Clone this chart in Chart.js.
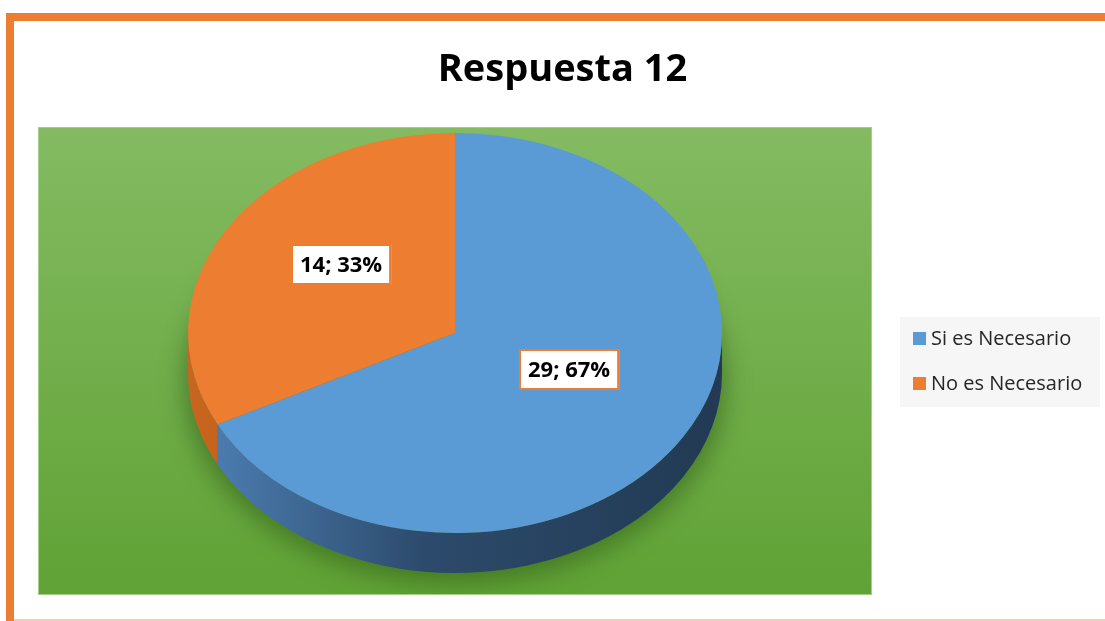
<!DOCTYPE html>
<html>
<head>
<meta charset="utf-8">
<script src="https://cdn.jsdelivr.net/npm/chart.js@4/dist/chart.umd.min.js"></script>
<style>
  html, body { margin: 0; padding: 0; background: #fff; overflow: hidden; }
  canvas { display: block; }
</style>
</head>
<body>
<canvas id="graficoRespuesta" width="1105" height="621"></canvas>
<script>
const titulo = "Respuesta 12"
const categorias = ["Si es Necesario", "No es Necesario"]
const valores = [29, 14]
const colores = ["#5b9bd5", "#ed7d31"]
// side (rim) colours: left, middle, right
const coloresLado = [
  ["#4f82b8", "#2c4a6b", "#223a53"],
  ["#c8651f", "#b55a1b", "#a34f18"]
]

// where the tilted pie sits on the page
const pie = { cx: 455, cy: 333, rx: 267, ry: 200, depth: 40, labelShift: -16 }
const area = { x: 38, y: 127, w: 834, h: 468 }
const fuente = "'Open Sans', 'DejaVu Sans', sans-serif"

function aPantalla(arc, p) {
  return {
    x: pie.cx + (p.x - arc.x) * pie.rx / arc.outerRadius,
    y: pie.cy + (p.y - arc.y) * pie.ry / arc.outerRadius
  }
}

const pie3d = {
  id: "pie3d",
  beforeDraw(chart) {
    const ctx = chart.ctx
    ctx.save()
    ctx.fillStyle = "#fff"
    ctx.fillRect(0, 0, chart.width, chart.height)
    // orange frame
    ctx.fillStyle = "#ed7d31"
    ctx.fillRect(6, 13, chart.width - 6, 8)
    ctx.fillRect(6, 13, 8, chart.height - 13)
    ctx.fillStyle = "#f8cbad"
    ctx.fillRect(14, 619, chart.width - 14, 2)
    // green plot area
    const g = ctx.createLinearGradient(0, area.y, 0, area.y + area.h)
    g.addColorStop(0, "#84bb62")
    g.addColorStop(1, "#60a235")
    ctx.fillStyle = g
    ctx.fillRect(area.x, area.y, area.w, area.h)
    ctx.strokeStyle = "#a3cf88"
    ctx.lineWidth = 1
    ctx.strokeRect(area.x + 0.5, area.y + 0.5, area.w - 1, area.h - 1)
    ctx.restore()
  },
  beforeDatasetsDraw(chart) {
    const ctx = chart.ctx
    const arcs = chart.getDatasetMeta(0).data

    // soft shadow under the pie
    ctx.save()
    ctx.beginPath()
    ctx.rect(area.x + 1, area.y + 1, area.w - 2, area.h - 2)
    ctx.clip()
    ctx.filter = "blur(12px)"
    ctx.fillStyle = "rgba(40, 80, 15, 0.5)"
    ctx.beginPath()
    ctx.ellipse(pie.cx, pie.cy + pie.depth + 8, pie.rx + 4, pie.ry + 2, 0, 0, 2 * Math.PI)
    ctx.fill()
    ctx.restore()

    // rim of every slice that faces the viewer
    arcs.forEach((arc, i) => {
      const grad = ctx.createLinearGradient(pie.cx - pie.rx, 0, pie.cx + pie.rx, 0)
      grad.addColorStop(0, coloresLado[i][0])
      grad.addColorStop(0.45, coloresLado[i][1])
      grad.addColorStop(1, coloresLado[i][2])
      for (let k = -1; k <= 1; k++) {
        const lo = Math.max(arc.startAngle, 2 * Math.PI * k)
        const hi = Math.min(arc.endAngle, 2 * Math.PI * k + Math.PI)
        if (hi <= lo) continue
        ctx.save()
        ctx.beginPath()
        ctx.ellipse(pie.cx, pie.cy, pie.rx, pie.ry, 0, lo, hi)
        ctx.ellipse(pie.cx, pie.cy + pie.depth, pie.rx, pie.ry, 0, hi, lo, true)
        ctx.closePath()
        ctx.fillStyle = grad
        ctx.fill()
        ctx.restore()
      }
    })

    // squash the flat pie into the tilted top face
    const a0 = arcs[0]
    ctx.save()
    ctx.translate(pie.cx, pie.cy)
    ctx.scale(pie.rx / a0.outerRadius, pie.ry / a0.outerRadius)
    ctx.translate(-a0.x, -a0.y)
  },
  afterDatasetsDraw(chart) {
    const ctx = chart.ctx
    ctx.restore()
    const arcs = chart.getDatasetMeta(0).data
    const total = valores.reduce((a, b) => a + b, 0)

    // data labels
    ctx.save()
    ctx.font = "bold 22px " + fuente
    ctx.textAlign = "center"
    ctx.textBaseline = "middle"
    arcs.forEach((arc, i) => {
      const p = aPantalla(arc, arc.getCenterPoint())
      const texto = valores[i] + "; " + Math.round(valores[i] / total * 100) + "%"
      const w = ctx.measureText(texto).width + 18
      const h = 41
      const x = Math.round(p.x - w / 2), y = Math.round(p.y + pie.labelShift - h / 2)
      ctx.fillStyle = "#fff"
      ctx.fillRect(x, y, w, h)
      ctx.strokeStyle = "#ed7d31"
      ctx.lineWidth = 2
      ctx.strokeRect(x + 1, y + 1, w - 2, h - 2)
      ctx.fillStyle = "#000"
      ctx.fillText(texto, x + w / 2, y + h / 2 + 1)
    })
    ctx.restore()

    // legend box
    ctx.save()
    ctx.fillStyle = "#f6f6f6"
    ctx.fillRect(900, 317, 200, 90)
    ctx.font = "20px " + fuente
    ctx.textBaseline = "middle"
    ctx.textAlign = "left"
    categorias.forEach((c, i) => {
      const y = 339 + i * 45
      ctx.fillStyle = colores[i]
      ctx.fillRect(913, y - 7, 13, 13)
      ctx.fillStyle = "#262626"
      ctx.fillText(c, 931, y)
    })
    ctx.restore()
  }
}

new Chart(document.getElementById("graficoRespuesta"), {
  type: "pie",
  data: {
    labels: categorias,
    datasets: [{
      data: valores,
      backgroundColor: colores,
      borderWidth: 0
    }]
  },
  options: {
    responsive: false,
    animation: false,
    layout: { padding: { left: 20, right: 0, top: 0, bottom: 30 } },
    plugins: {
      legend: { display: false },
      tooltip: { enabled: false },
      title: {
        display: true,
        text: titulo,
        color: "#000",
        font: { family: fuente, size: 38, weight: "bold" },
        padding: { top: 47, bottom: 36 }
      }
    }
  },
  plugins: [pie3d]
})
</script>
</body>
</html>
